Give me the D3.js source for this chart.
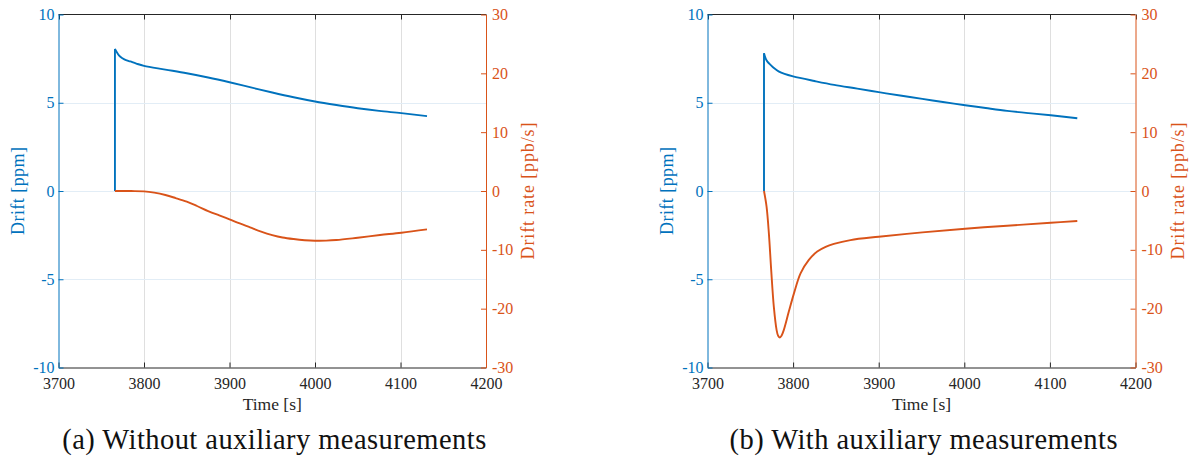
<!DOCTYPE html>
<html>
<head>
<meta charset="utf-8">
<script src="https://cdn.jsdelivr.net/npm/d3@7"></script>
<style>
  body { margin: 0; background: #fff; }
  svg { display: block; font-family: "Liberation Serif", "DejaVu Serif", serif; }
</style>
</head>
<body>
<svg id="chart" width="1190" height="461"></svg>
<script>
// ticks
const timeTicks = [3700, 3800, 3900, 4000, 4100, 4200];
const driftTicks = [-10, -5, 0, 5, 10];
const rateTicks = [-30, -20, -10, 0, 10, 20, 30];
const captions = ["(a) Without auxiliary measurements", "(b) With auxiliary measurements"];

// (a) without auxiliary measurements
const driftTimeA = [3766, 3766, 3769, 3772, 3777, 3784, 3791, 3800, 3825, 3850, 3875, 3900, 3925, 3950, 3975, 4000, 4025, 4050, 4075, 4101, 4131];
const driftA = [0, 8.05, 7.8, 7.62, 7.46, 7.34, 7.22, 7.09, 6.88, 6.67, 6.43, 6.16, 5.87, 5.58, 5.31, 5.07, 4.87, 4.69, 4.54, 4.41, 4.24];
const rateTimeA = [3766, 3785, 3800, 3812, 3825, 3837, 3850, 3862, 3875, 3888, 3900, 3912, 3924, 3937, 3950, 3962, 3975, 3988, 4000, 4013, 4025, 4050, 4076, 4101, 4131];
const rateA = [0, -0.01, -0.06, -0.28, -0.68, -1.2, -1.82, -2.55, -3.4, -4.15, -4.82, -5.52, -6.18, -6.9, -7.49, -7.9, -8.17, -8.36, -8.45, -8.44, -8.34, -7.94, -7.49, -7.09, -6.52];

// (b) with auxiliary measurements
const driftTimeB = [3766, 3766, 3768, 3770, 3774, 3778, 3783, 3790, 3800, 3825, 3848, 3875, 3900, 3925, 3951, 3975, 4001, 4025, 4050, 4075, 4101, 4132];
const driftB = [0, 7.81, 7.5, 7.33, 7.13, 6.95, 6.78, 6.63, 6.49, 6.23, 6.01, 5.8, 5.6, 5.41, 5.22, 5.04, 4.86, 4.7, 4.54, 4.41, 4.29, 4.12];
const rateTimeB = [3766, 3769, 3771.7, 3774.4, 3777.5, 3780.7, 3782.5, 3784.6, 3786.5, 3789.2, 3795, 3801, 3808.7, 3818.4, 3828.2, 3838, 3847.6, 3867, 3900, 3951, 4001, 4050, 4101, 4132];
const rateB = [0, -2.66, -7.2, -13.4, -19.7, -23.6, -24.6, -24.9, -24.6, -23.6, -20.5, -17.4, -14.0, -11.7, -10.3, -9.5, -9.0, -8.34, -7.77, -7.03, -6.41, -5.9, -5.39, -5.1];

const blue = "#0072BD";
const orange = "#D95319";
const dark = "#262626";

const panels = [
  { left: 58.5, right: 486, driftT: driftTimeA, drift: driftA, rateT: rateTimeA, rate: rateA, caption: captions[0], capWidth: 424 },
  { left: 707.5, right: 1135.5, driftT: driftTimeB, drift: driftB, rateT: rateTimeB, rate: rateB, caption: captions[1], capWidth: 388 }
];

const plotTop = 14.5, plotBottom = 367.5;
const svg = d3.select("#chart");
const fmt = d => String(d);
const smooth = d3.curveCatmullRom.alpha(0.5);

panels.forEach(p => {
  const x = d3.scaleLinear().domain([3700, 4200]).range([p.left, p.right]);
  const yL = d3.scaleLinear().domain([-10, 10]).range([plotBottom, plotTop]);
  const yR = d3.scaleLinear().domain([-30, 30]).range([plotBottom, plotTop]);

  const g = svg.append("g");

  // grid
  g.append("g").selectAll("line")
    .data(timeTicks.slice(1, -1))
    .join("line")
    .attr("x1", d => Math.round(x(d)) + 0.5).attr("x2", d => Math.round(x(d)) + 0.5)
    .attr("y1", plotTop).attr("y2", plotBottom)
    .attr("stroke", "#dfdfdf").attr("stroke-width", 1);
  g.append("g").selectAll("line")
    .data(driftTicks.slice(1, -1))
    .join("line")
    .attr("x1", p.left).attr("x2", p.right)
    .attr("y1", d => Math.round(yL(d)) + 0.5).attr("y2", d => Math.round(yL(d)) + 0.5)
    .attr("stroke", "#e2edf6").attr("stroke-width", 1);

  // top border with inward ticks
  g.append("line")
    .attr("x1", p.left).attr("x2", p.right).attr("y1", plotTop).attr("y2", plotTop)
    .attr("stroke", dark).attr("stroke-width", 1);
  g.append("g").selectAll("line")
    .data(timeTicks)
    .join("line")
    .attr("x1", d => Math.round(x(d)) + 0.5).attr("x2", d => Math.round(x(d)) + 0.5)
    .attr("y1", plotTop).attr("y2", plotTop + 5)
    .attr("stroke", dark);

  // bottom axis
  const xAxis = d3.axisBottom(x).tickValues(timeTicks).tickFormat(fmt).tickSizeInner(-5).tickSizeOuter(0).tickPadding(10);
  const gx = g.append("g").attr("transform", `translate(0,${plotBottom})`).call(xAxis);
  gx.select(".domain").attr("stroke", dark);
  gx.selectAll(".tick line").attr("stroke", dark);
  gx.selectAll("text").attr("fill", dark).attr("font-size", 16).attr("font-family", "Liberation Serif");

  // left axis
  const yAxisL = d3.axisLeft(yL).tickValues(driftTicks).tickFormat(fmt).tickSizeInner(-5).tickSizeOuter(0).tickPadding(4);
  const gl = g.append("g").attr("transform", `translate(${p.left},0)`).call(yAxisL);
  gl.select(".domain").attr("stroke", blue);
  gl.selectAll(".tick line").attr("stroke", blue);
  gl.selectAll("text").attr("fill", blue).attr("font-size", 16).attr("font-family", "Liberation Serif");

  // right axis
  const yAxisR = d3.axisRight(yR).tickValues(rateTicks).tickFormat(fmt).tickSizeInner(-5).tickSizeOuter(0).tickPadding(6);
  const gr = g.append("g").attr("transform", `translate(${p.right},0)`).call(yAxisR);
  gr.select(".domain").attr("stroke", orange);
  gr.selectAll(".tick line").attr("stroke", orange);
  gr.selectAll("text").attr("fill", orange).attr("font-size", 16).attr("font-family", "Liberation Serif");

  // drift series: vertical jump then the decay
  const driftPts = p.driftT.map((t, i) => [t, p.drift[i]]);
  const lineL = d3.line().x(d => x(d[0])).y(d => yL(d[1]));
  g.append("path")
    .attr("d", lineL(driftPts.slice(0, 2)))
    .attr("fill", "none").attr("stroke", blue).attr("stroke-width", 1.9);
  g.append("path")
    .attr("d", lineL.curve(smooth)(driftPts.slice(1)))
    .attr("fill", "none").attr("stroke", blue).attr("stroke-width", 1.9)
    .attr("stroke-linejoin", "round");

  // drift rate series
  const ratePts = p.rateT.map((t, i) => [t, p.rate[i]]);
  const lineR = d3.line().x(d => x(d[0])).y(d => yR(d[1])).curve(smooth);
  g.append("path")
    .attr("d", lineR(ratePts))
    .attr("fill", "none").attr("stroke", orange).attr("stroke-width", 1.9)
    .attr("stroke-linejoin", "round");

  // labels
  const cx = (p.left + p.right) / 2;
  const cy = (plotTop + plotBottom) / 2;
  g.append("text")
    .attr("x", cx).attr("y", 410)
    .attr("text-anchor", "middle")
    .attr("font-size", 17.5).attr("fill", dark)
    .text("Time [s]");
  g.append("text")
    .attr("transform", `translate(${p.left - 41},${cy}) rotate(-90)`)
    .attr("text-anchor", "middle").attr("dy", "0.35em")
    .attr("font-size", 18).attr("fill", blue)
    .attr("textLength", 88).attr("lengthAdjust", "spacing")
    .text("Drift [ppm]");
  g.append("text")
    .attr("transform", `translate(${p.right + 42},${cy}) rotate(-90)`)
    .attr("text-anchor", "middle").attr("dy", "0.35em")
    .attr("font-size", 18).attr("fill", orange)
    .attr("textLength", 137).attr("lengthAdjust", "spacing")
    .text("Drift rate [ppb/s]");

  // caption
  g.append("text")
    .attr("x", cx + 2).attr("y", 449)
    .attr("text-anchor", "middle")
    .attr("font-size", 28.5).attr("fill", "#111")
    .attr("textLength", p.capWidth).attr("lengthAdjust", "spacing")
    .text(p.caption);
});
</script>
</body>
</html>
